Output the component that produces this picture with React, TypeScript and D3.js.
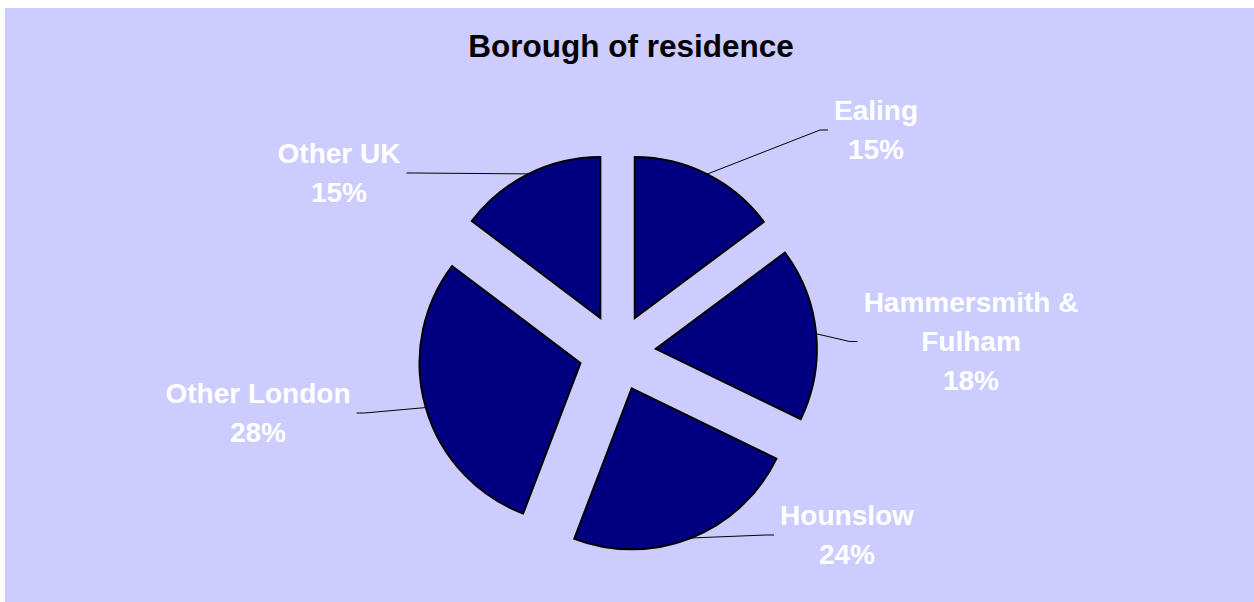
import { useEffect, useRef } from "react";
import * as d3 from "d3";

const W = 1254;
const H = 602;

const categories = ["Ealing", "Hammersmith & Fulham", "Hounslow", "Other London", "Other UK"];
// slice sizes
const shares = [14.8, 17.4, 23.6, 29.5, 14.7];
// percentages as printed on the chart
const pctLabels = ["15%", "18%", "24%", "28%", "15%"];
const labelLines = [["Ealing"], ["Hammersmith &", "Fulham"], ["Hounslow"], ["Other London"], ["Other UK"]];

// where Excel dropped the labels (centre x, first baseline, which side the leader meets)
const labelLayout = [
  { x: 876, y: 120, side: "left" },
  { x: 971, y: 312, side: "left" },
  { x: 847, y: 525, side: "left" },
  { x: 258, y: 403, side: "right" },
  { x: 339, y: 163, side: "right" },
];

const cx = 617.5;
const cy = 352.5;
const radius = 161;
const explode = 38.5;
const lineHeight = 39;

export default function App() {
  const ref = useRef<SVGSVGElement>(null);

  useEffect(() => {
    const svg = d3.select(ref.current);
    svg.selectAll("*").remove();

    svg.append("rect")
      .attr("x", 5).attr("y", 8)
      .attr("width", W - 5).attr("height", H - 8)
      .attr("fill", "#ccccff");

    svg.append("text")
      .attr("x", 631).attr("y", 57)
      .attr("text-anchor", "middle")
      .attr("font-family", "'Liberation Sans', Arial, sans-serif")
      .attr("font-weight", "bold")
      .attr("font-size", 31.5)
      .attr("fill", "#000")
      .text("Borough of residence");

    const data = categories.map((c, i) => ({ name: c, value: shares[i], i }));
    const pie = d3.pie<any>().value((d) => d.value).sort(null);
    const arcs = pie(data);
    const arc = d3.arc<any>().innerRadius(0).outerRadius(radius);

    const g = svg.append("g").attr("transform", `translate(${cx},${cy})`);

    const offset = (a: any) => {
      const mid = (a.startAngle + a.endAngle) / 2;
      return [explode * Math.sin(mid), -explode * Math.cos(mid)];
    };

    g.selectAll("path.slice")
      .data(arcs)
      .join("path")
      .attr("class", "slice")
      .attr("transform", (a) => {
        const [ox, oy] = offset(a);
        return `translate(${ox},${oy})`;
      })
      .attr("d", arc as any)
      .attr("fill", "#000080")
      .attr("stroke", "#000")
      .attr("stroke-width", 2)
      .attr("stroke-linejoin", "miter");

    const labels = svg.append("g");
    arcs.forEach((a, i) => {
      const lay = labelLayout[i];
      const t = labels.append("text")
        .attr("text-anchor", "middle")
        .attr("font-family", "'Liberation Sans', Arial, sans-serif")
        .attr("font-weight", "bold")
        .attr("font-size", 28)
        .attr("fill", "#fff");
      const lines = [...labelLines[i], pctLabels[i]];
      lines.forEach((l, k) => {
        t.append("tspan").attr("x", lay.x).attr("y", lay.y + k * lineHeight).text(l);
      });
      const bb = (t.node() as SVGTextElement).getBBox();
      const ly = bb.y + bb.height / 2;
      const dir = lay.side === "left" ? -1 : 1;
      const edge = lay.side === "left" ? bb.x : bb.x + bb.width;
      const mid = (a.startAngle + a.endAngle) / 2;
      const [ox, oy] = offset(a);
      const px = cx + ox + radius * Math.sin(mid);
      const py = cy + oy - radius * Math.cos(mid);
      labels.insert("polyline", "text")
        .attr("points", `${px},${py} ${edge + dir * 14},${ly} ${edge + dir * 6},${ly}`)
        .attr("fill", "none")
        .attr("stroke", "#000")
        .attr("stroke-width", 1);
    });
  }, []);

  return (
    <svg
      ref={ref}
      width={W}
      height={H}
      style={{ position: "absolute", left: 0, top: 0 }}
    />
  );
}
